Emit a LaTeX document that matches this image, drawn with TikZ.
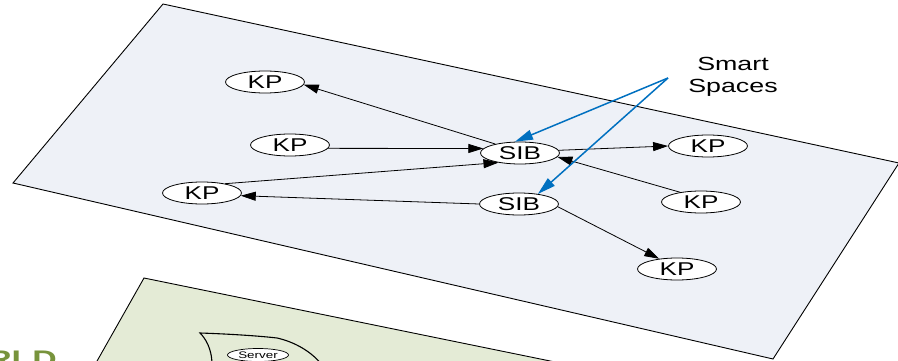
\documentclass[tikz,border=0pt]{standalone}
\usepackage{fontspec}
\usetikzlibrary{shapes.geometric,arrows.meta}
% Arial-width sans, widened like the slide artwork
\newfontfamily\wf[FakeStretch=1.41]{Liberation Sans}
\definecolor{planeblue}{RGB}{238,241,247}
\definecolor{planegreen}{RGB}{228,235,214}
\definecolor{hintblue}{RGB}{0,112,192}
\definecolor{titleolive}{RGB}{119,147,60}
\begin{document}
\begin{tikzpicture}[x=1pt,y=-1pt,
  plane/.style={draw=black,line width=0.9pt},
  ent/.style={ellipse,draw=black,fill=white,line width=0.8pt,
    minimum width=79pt,minimum height=22pt,inner sep=0pt,
    font=\wf\fontsize{18.5}{20}\selectfont},
  link/.style={-{Triangle[length=15pt,width=9pt]},line width=0.8pt},
  hint/.style={-{Triangle[length=18pt,width=10pt]},draw=hintblue,line width=1.5pt}]
\useasboundingbox (0,0) rectangle (898,361);
\clip (0,0) rectangle (898,361);

% lower (physical world) plane
\filldraw[fill=planegreen,plane] (144,278) -- (741,400) -- (75,400) -- cycle;
\draw[line width=1.1pt] (212,365) .. controls (212,348) and (205,338) .. (200,333)
  .. controls (230,334) and (260,336) .. (277,338)
  .. controls (295,342) and (312,352) .. (322,365);
\node[ellipse,draw=black,fill=white,line width=0.7pt,minimum width=61pt,
  minimum height=13pt,inner sep=0pt,font=\wf\fontsize{9.5}{10}\selectfont]
  (server) at (258,355) {Server};
\node[anchor=base east,inner sep=0pt,text=titleolive,
  font=\wf\bfseries\fontsize{24}{26}\selectfont] (world) at (57,367) {RLD};

% upper (smart space) plane
\filldraw[fill=planeblue,plane] (163,4) -- (899,163) -- (773,359) -- (13,183) -- cycle;

\node[ent] (kp1) at (265,82) {KP};
\node[ent] (kp2) at (290,145) {KP};
\node[ent] (kp3) at (202,193) {KP};
\node[ent] (sib1) at (520,153) {SIB};
\node[ent] (sib2) at (519,204) {SIB};
\node[ent] (kp4) at (708,146) {KP};
\node[ent] (kp5) at (701,202) {KP};
\node[ent] (kp6) at (677,269) {KP};

\draw[link] (sib1.160) -- (kp1.-4);
\draw[link] (kp2.-5) -- (sib1.173);
\draw[link] (kp3.22) -- (sib1.204);
\draw[link] (sib2.west) -- (kp3.-4);
\draw[link] (sib1.4) -- (kp4.west);
\draw[link] (kp5.155) -- (sib1.-6);
\draw[link] (sib2.-4) -- (kp6.150);

% label with pointers to the two SIBs
\node[align=center,inner sep=0pt,font=\wf\fontsize{19}{22}\selectfont]
  (label) at (733,77) {Smart\\Spaces};
\coordinate (hub) at (668,78);
\draw[hint] (hub) -- (sib1.114);
\draw[hint] (hub) -- (sib2.28);
\end{tikzpicture}
\end{document}
